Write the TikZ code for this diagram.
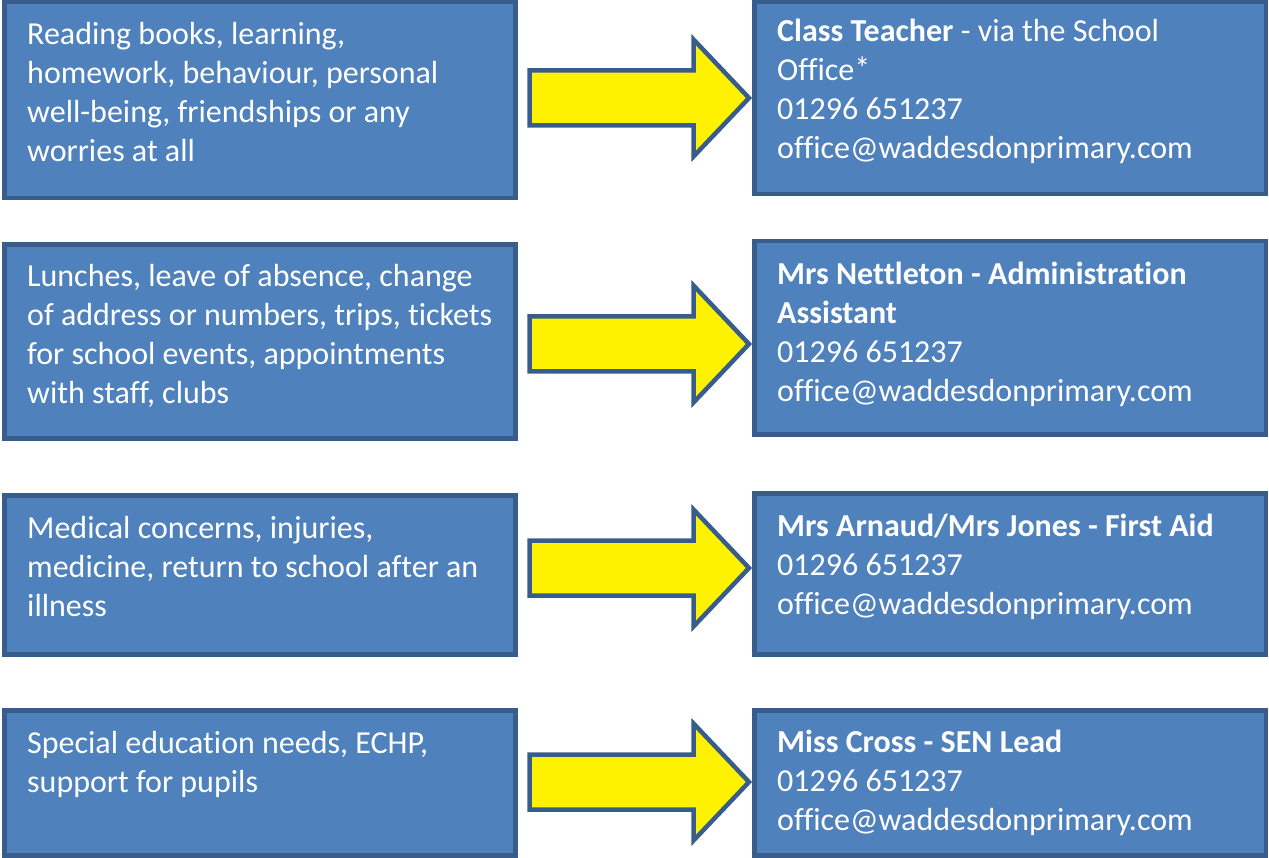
\documentclass[tikz,border=0pt]{standalone}
\usepackage{fontspec}
\setmainfont{Carlito}[Ligatures=NoCommon]
\usetikzlibrary{calc}
\definecolor{boxblue}{HTML}{4F81BD}
\definecolor{edgeblue}{HTML}{385D8A}
\newcommand{\blockarrow}[3]{%
  \draw[fatarrow] ($(#1.east |- 0,#3)+(14,-27.5)$) -- ($(#2.west |- 0,#3)+(-61,-27.5)$)
    -- ($(#2.west |- 0,#3)+(-61,-58.5)$) -- ($(#2.west |- 0,#3)+(-5.5,0)$)
    -- ($(#2.west |- 0,#3)+(-61,58.5)$) -- ($(#2.west |- 0,#3)+(-61,27.5)$)
    -- ($(#1.east |- 0,#3)+(14,27.5)$) -- cycle;}

\begin{document}
\begin{tikzpicture}[x=1pt,y=-1pt,
  box/.style={draw=edgeblue, fill=boxblue, line width=4.5pt, rectangle,
    anchor=north west, inner sep=0pt, outer sep=0pt},
  leftbox/.style={box, minimum width=511pt},
  rightbox/.style={box, minimum width=511.5pt},
  txt/.style={anchor=base west, inner sep=0pt, text=white, text width=540pt,
    align=flush left, font=\fontsize{32}{39}\selectfont},
  fatarrow/.style={draw=edgeblue, fill=yellow, line width=4.5pt, line join=miter}]
  \path[use as bounding box] (0,0) rectangle (1269,858);

  % topics
  \node[leftbox, minimum height=196pt] (l1) at (4.5,2) {};
  \node[leftbox, minimum height=194pt] (l2) at (4.5,244.5) {};
  \node[leftbox, minimum height=159pt] (l3) at (4.5,495.5) {};
  \node[leftbox, minimum height=145pt] (l4) at (4.5,710.5) {};

  % contacts
  \node[rightbox, minimum height=192pt] (r1) at (754.5,2) {};
  \node[rightbox, minimum height=193.5pt] (r2) at (754.5,241) {};
  \node[rightbox, minimum height=161pt] (r3) at (754.5,493.5) {};
  \node[rightbox, minimum height=145pt] (r4) at (754.5,710.5) {};

  \node[txt] (lt1) at (27,45) {Reading books, learning,\\homework, behaviour, personal\\well-being, friendships or any\\worries at all};
  \node[txt] (lt2) at (27,287) {Lunches, leave of absence, change\\of address or numbers, trips, tickets\\for school events, appointments\\with staff, clubs};
  \node[txt] (lt3) at (27,538) {Medical concerns, injuries,\\medicine, return to school after an\\illness};
  \node[txt] (lt4) at (27,753) {Special education needs, ECHP,\\support for pupils};

  \node[txt] (rt1) at (777,42) {\textbf{Class Teacher} - via the School\\Office\raisebox{0.05em}{*}\\01296 651237\\office@waddesdonprimary.com};
  \node[txt] (rt2) at (777,285) {\textbf{Mrs Nettleton - Administration}\\\textbf{Assistant}\\01296 651237\\office@waddesdonprimary.com};
  \node[txt] (rt3) at (777,536) {\textbf{Mrs Arnaud/Mrs Jones - First Aid}\\01296 651237\\office@waddesdonprimary.com};
  \node[txt] (rt4) at (777,752) {\textbf{Miss Cross - SEN Lead}\\01296 651237\\office@waddesdonprimary.com};

  % arrows
  \blockarrow{l1}{r1}{98}
  \blockarrow{l2}{r2}{344}
  \blockarrow{l3}{r3}{568}
  \blockarrow{l4}{r4}{782}
\end{tikzpicture}
\end{document}
